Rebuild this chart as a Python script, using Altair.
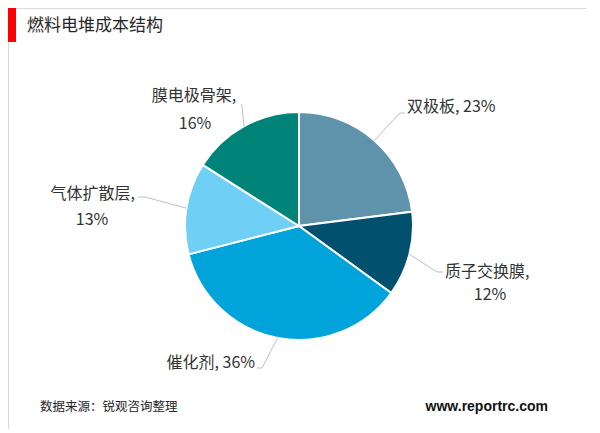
import math
import altair as alt
import pandas as pd

# ---- data ----
categories = ["双极板", "质子交换膜", "催化剂", "气体扩散层", "膜电极骨架"]
values = [23, 12, 36, 13, 16]
colors = ["#5E93AB", "#00506E", "#00A3DA", "#70CFF4", "#00847A"]
title_text = "燃料电堆成本结构"
source_text = "数据来源：锐观咨询整理"
site_text = "www.reportrc.com"

# ---- layout (image pixel coordinates) ----
W, H = 578, 421
OFF = 8
CX, CY, R = 299, 226, 114
# per label: split into two lines?, line anchors [(x, y, align)], elbow, end
label_layout = [
    dict(two=False, anchors=[(407, 107, "left")], elbow=(400, 113), end=(405, 113)),
    dict(two=True, anchors=[(445, 272, "left"), (490, 295, "center")], elbow=(437, 272), end=(443, 272)),
    dict(two=False, anchors=[(255, 363, "right")], elbow=(262, 368), end=(257, 368)),
    dict(two=True, anchors=[(135, 194, "right"), (92, 220, "center")], elbow=(145, 197), end=(138, 197)),
    dict(two=True, anchors=[(194, 96, "center"), (195, 124, "center")], elbow=(242, 106), end=(241, 104)),
]

pie_df = pd.DataFrame({"cat": categories, "val": values, "idx": list(range(len(values)))})

total = sum(values)
text_rows = []
line_rows = []
cum = 0
for i, (c, v) in enumerate(zip(categories, values)):
    mid = (cum + v / 2) / total * 2 * math.pi
    cum += v
    sx = CX + R * math.sin(mid)
    sy = CY - R * math.cos(mid)
    lay = label_layout[i]
    lines = [f"{c},", f"{v}%"] if lay["two"] else [f"{c}, {v}%"]
    for t, (ax, ay, al) in zip(lines, lay["anchors"]):
        text_rows.append({"t": t, "x": ax, "y": ay, "al": al})
    for k, (px, py) in enumerate([(sx, sy), lay["elbow"], lay["end"]]):
        line_rows.append({"id": i, "k": k, "x": px, "y": py})

text_df = pd.DataFrame(text_rows)
line_df = pd.DataFrame(line_rows)

xs = alt.Scale(domain=[OFF, OFF + W], nice=False, zero=False)
ys = alt.Scale(domain=[OFF, OFF + H], nice=False, zero=False, reverse=True)

pie = alt.Chart(pie_df).mark_arc(radius=R, stroke="white", strokeWidth=2).encode(
    theta=alt.Theta("val:Q", stack=True),
    order=alt.Order("idx:Q"),
    color=alt.Color("cat:N", scale=alt.Scale(domain=categories, range=colors), legend=None),
    x=alt.value(CX - OFF),
    y=alt.value(CY - OFF),
)

leaders = alt.Chart(line_df).mark_line(color="#BFBFBF", strokeWidth=1).encode(
    x=alt.X("x:Q", scale=xs, axis=None),
    y=alt.Y("y:Q", scale=ys, axis=None),
    detail="id:N",
    order="k:Q",
)

font_cjk = "Noto Sans CJK SC"
texts = []
for al in ["left", "center", "right"]:
    sub = text_df[text_df["al"] == al]
    if len(sub) == 0:
        continue
    texts.append(
        alt.Chart(sub).mark_text(align=al, baseline="middle", fontSize=16, font=font_cjk, color="#333333").encode(
            x=alt.X("x:Q", scale=xs, axis=None),
            y=alt.Y("y:Q", scale=ys, axis=None),
            text="t:N",
        )
    )

redbar = alt.Chart(pd.DataFrame({"a": [0]})).mark_rect(color="#FF0000").encode(
    x=alt.value(0), x2=alt.value(8), y=alt.value(0), y2=alt.value(34)
)
title = alt.Chart(pd.DataFrame({"t": [title_text]})).mark_text(
    align="left", baseline="middle", fontSize=17, font=font_cjk, color="#262626"
).encode(x=alt.value(27 - OFF), y=alt.value(26 - OFF), text="t:N")
source = alt.Chart(pd.DataFrame({"t": [source_text]})).mark_text(
    align="left", baseline="middle", fontSize=12.5, font=font_cjk, color="#262626"
).encode(x=alt.value(40 - OFF), y=alt.value(407 - OFF), text="t:N")
site = alt.Chart(pd.DataFrame({"t": [site_text]})).mark_text(
    align="right", baseline="middle", fontSize=14, font="Liberation Sans", fontWeight="bold", color="#111111"
).encode(x=alt.value(548 - OFF), y=alt.value(407 - OFF), text="t:N")

chart = alt.layer(pie, leaders, *texts, redbar, title, source, site).properties(
    width=W, height=H, padding=0, autosize="none"
).configure_view(stroke="#D9D9D9", strokeWidth=1)

chart.save("out.html", embed_options={"renderer": "svg", "actions": False})
